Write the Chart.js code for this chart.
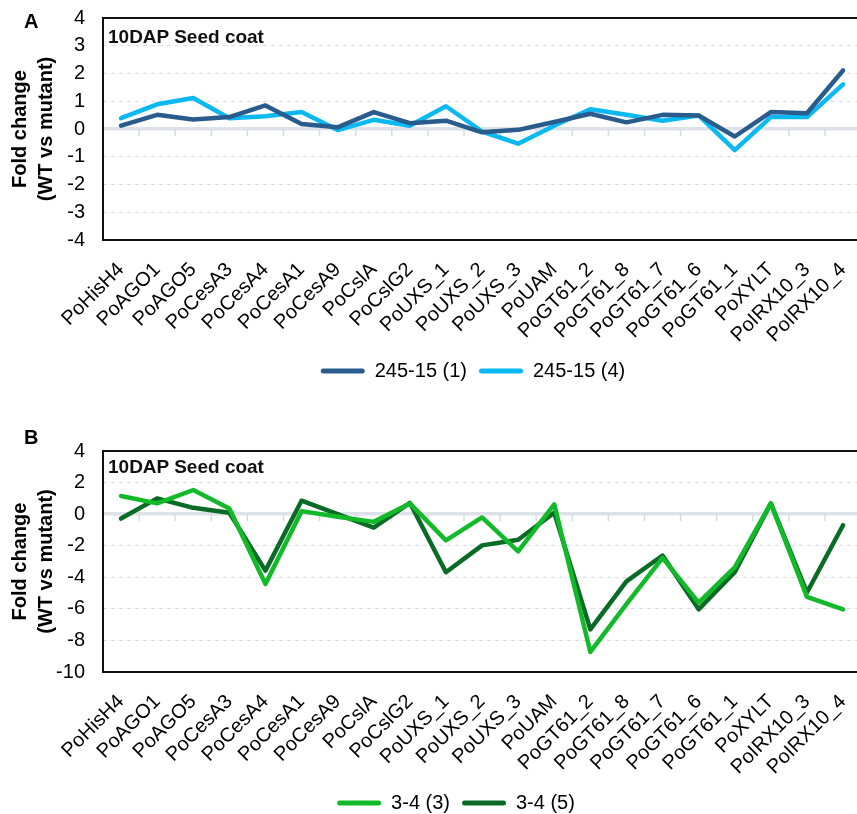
<!DOCTYPE html>
<html>
<head>
<meta charset="utf-8">
<script src="https://cdn.jsdelivr.net/npm/chart.js@4.4.1/dist/chart.umd.min.js"></script>
<style>
  html, body { margin: 0; padding: 0; background: #fff; }
  body { width: 857px; height: 814px; overflow: hidden; position: relative;
         font-family: "Liberation Sans", Arial, sans-serif; }
  .panel { position: absolute; left: 0; }
  .tag { position: absolute; font-weight: bold; font-size: 20px; color: #000; }
  .inset { position: absolute; font-weight: bold; font-size: 19px; color: #111; }
</style>
</head>
<body>
<div class="panel" style="top:0;width:870px;height:400px"><canvas id="chartA" width="870" height="400"></canvas></div>
<div class="panel" style="top:400px;width:870px;height:430px"><canvas id="chartB" width="870" height="430"></canvas></div>
<div class="tag" style="left:24px;top:10px">A</div>
<div class="tag" style="left:24px;top:426px">B</div>
<div class="inset" style="left:108px;top:26px">10DAP Seed coat</div>
<div class="inset" style="left:108px;top:456px">10DAP Seed coat</div>

<script>
// Genes on the x axis (same order in both panels)
const genes = ['PoHisH4', 'PoAGO1', 'PoAGO5', 'PoCesA3', 'PoCesA4', 'PoCesA1', 'PoCesA9',
  'PoCslA', 'PoCslG2', 'PoUXS_1', 'PoUXS_2', 'PoUXS_3', 'PoUAM', 'PoGT61_2', 'PoGT61_8',
  'PoGT61_7', 'PoGT61_6', 'PoGT61_1', 'PoXYLT', 'PoIRX10_3', 'PoIRX10_4'];

// Panel A: line 245-15
const line245_15_1 = [0.12, 0.51, 0.34, 0.43, 0.85, 0.18, 0.06, 0.61, 0.21, 0.30, -0.12, -0.03,
  0.25, 0.55, 0.24, 0.51, 0.49, -0.27, 0.61, 0.57, 2.11];
const line245_15_4 = [0.39, 0.89, 1.12, 0.39, 0.46, 0.61, -0.04, 0.33, 0.12, 0.82, -0.09, -0.53,
  0.12, 0.71, 0.51, 0.30, 0.49, -0.76, 0.43, 0.43, 1.61];

// Panel B: line 3-4
const line3_4_3 = [1.15, 0.68, 1.53, 0.36, -4.43, 0.19, -0.17, -0.49, 0.68, -1.66, -0.21, -2.36,
  0.62, -8.73, -5.7, -2.77, -5.6, -3.37, 0.68, -5.24, -6.03];
const line3_4_5 = [-0.28, 1.0, 0.4, 0.09, -3.58, 0.85, 0.0, -0.85, 0.72, -3.68, -1.98, -1.62,
  0.09, -7.3, -4.26, -2.62, -6.03, -3.68, 0.68, -4.96, -0.7];

// Y tick values of each panel
const ticksA = [-4, -3, -2, -1, 0, 1, 2, 3, 4];
const ticksB = [-10, -8, -6, -4, -2, 0, 2, 4];

const FONT = '"Liberation Sans", Arial, sans-serif';
const COLORS = { blueDark: '#295b8c', blueLight: '#0ab8f2', greenLight: '#12ba2a', greenDark: '#0a6b26' };
const PLOT_LEFT = 103;   // left edge of the plot frame

// Black frame around the plot area plus small ticks hanging from the zero line
const framePlugin = {
  id: 'frame',
  beforeDatasetsDraw(chart) {
    const { ctx, scales: { x, y } } = chart;
    const y0 = y.getPixelForValue(0);
    ctx.save();
    ctx.strokeStyle = '#d7dbe3';
    ctx.lineWidth = 1.5;
    for (let i = 1; i < genes.length; i++) {
      const bx = (x.getPixelForValue(i - 1) + x.getPixelForValue(i)) / 2;
      ctx.beginPath();
      ctx.moveTo(bx, y0);
      ctx.lineTo(bx, y0 + 7);
      ctx.stroke();
    }
    ctx.restore();
  },
  afterDraw(chart) {
    const { ctx, chartArea: a } = chart;
    ctx.save();
    ctx.strokeStyle = '#111';
    ctx.lineWidth = 2;
    ctx.strokeRect(a.left, a.top, a.right - a.left, a.bottom - a.top);
    ctx.restore();
  }
};

// Centres the legend row on a chosen x position
const legendCentrePlugin = {
  id: 'legendCentre',
  afterLayout(chart, args, opts) {
    const lg = chart.legend;
    if (!lg || opts.x == null) return;
    const d = opts.x - (lg.left + lg.right) / 2;
    lg.left += d;
    lg.right += d;
  }
};

function makeChart(id, series, ticks, layout) {
  const step = ticks[1] - ticks[0];
  return new Chart(document.getElementById(id), {
    type: 'line',
    data: {
      labels: genes,
      datasets: series.map(s => ({
        label: s.label,
        data: s.data,
        borderColor: s.color,
        backgroundColor: s.color,
        borderWidth: 4.5,
        pointRadius: 0,
        tension: 0,
        borderCapStyle: 'round',
        borderJoinStyle: 'round',
        clip: false
      }))
    },
    options: {
      responsive: false,
      animation: false,
      layout: { padding: { top: layout.top, right: 0, left: 0, bottom: layout.bottom } },
      scales: {
        x: {
          offset: true,
          grid: { display: false },
          border: { display: false },
          ticks: {
            autoSkip: false, maxRotation: 45, minRotation: 45,
            padding: layout.xTickPad,
            color: '#000', font: { family: FONT, size: 20 }
          },
          afterFit: s => { s.height = layout.xHeight; }
        },
        y: {
          min: ticks[0],
          max: ticks[ticks.length - 1],
          ticks: {
            stepSize: step, autoSkip: false, padding: 0,
            color: '#000', font: { family: FONT, size: 20 }
          },
          grid: {
            drawTicks: true,
            tickLength: 18,
            tickColor: 'rgba(0,0,0,0)',
            color: c => (c.tick && c.tick.value === 0) ? '#dde1e8' : '#d9dce6',
            lineWidth: c => (c.tick && c.tick.value === 0) ? 3.5 : 1
          },
          border: {
            display: false,
            dash: c => (c.tick && c.tick.value === 0) ? [] : [4, 4]
          },
          title: {
            display: true,
            text: ['Fold change', '(WT vs mutant)'],
            color: '#000',
            font: { family: FONT, size: 20, weight: 'bold', lineHeight: 1.3 },
            padding: { top: 7, bottom: 0 }
          },
          afterFit: s => { s.width = PLOT_LEFT; }
        }
      },
      plugins: {
        tooltip: { enabled: false },
        legendCentre: { x: layout.legendX },
        legend: {
          position: 'bottom',
          labels: {
            color: '#000',
            font: { family: FONT, size: 20 },
            boxWidth: 44,
            boxHeight: 5,
            padding: 12,
            useBorderRadius: true,
            borderRadius: 2.5,
            generateLabels: chart =>
              Chart.defaults.plugins.legend.labels.generateLabels(chart)
                .map(l => Object.assign(l, { lineWidth: 0 }))
          }
        }
      }
    },
    plugins: [framePlugin, legendCentrePlugin]
  });
}

makeChart('chartA', [
  { label: '245-15 (1)', data: line245_15_1, color: COLORS.blueDark },
  { label: '245-15 (4)', data: line245_15_4, color: COLORS.blueLight }
], ticksA, { top: 18, bottom: 9, legendX: 473, xHeight: 109, xTickPad: 10 });

makeChart('chartB', [
  { label: '3-4 (3)', data: line3_4_3, color: COLORS.greenLight },
  { label: '3-4 (5)', data: line3_4_5, color: COLORS.greenDark }
], ticksB, { top: 51, bottom: 7, legendX: 456, xHeight: 109, xTickPad: 10 });
</script>
</body>
</html>
